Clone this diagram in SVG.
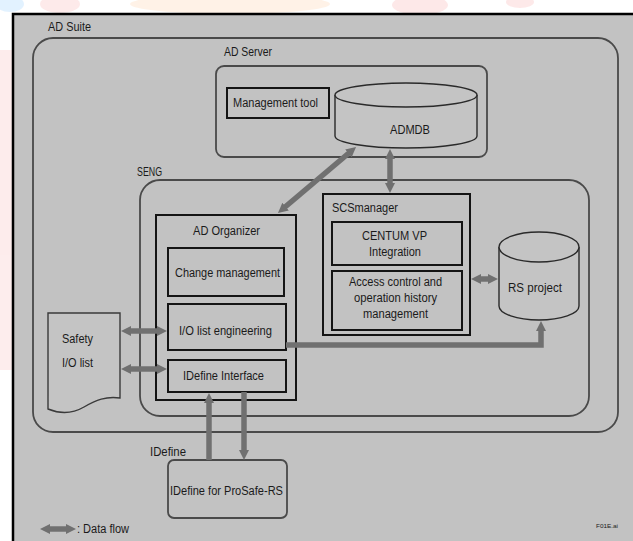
<svg xmlns="http://www.w3.org/2000/svg" width="633" height="541" viewBox="0 0 633 541">
<style>
text{font-family:"Liberation Sans",Arial,sans-serif;font-size:12.5px;fill:#1a1a1a}
.rr{fill:none;stroke:#4a4a4a;stroke-width:1.8}
.bx{fill:none;stroke:#141414;stroke-width:2}
.cyl{fill:#c4c4c4;stroke:#2a2a2a;stroke-width:1.4}
.fl{fill:none;stroke:#707070;stroke-width:5.5}
</style>
<defs>
<marker id="ah" viewBox="0 0 10 10" refX="3" refY="5" markerWidth="10" markerHeight="11" markerUnits="userSpaceOnUse" orient="auto-start-reverse">
<path d="M0,0 L10,5 L0,10 z" fill="#707070"/>
</marker>
</defs>
<rect x="0" y="0" width="633" height="541" fill="#ffffff"/>
<g id="watermark" opacity="0.8">
<ellipse cx="10" cy="4" rx="14" ry="8" fill="#dcefff"/>
<ellipse cx="60" cy="4" rx="20" ry="9" fill="#fde6e6"/>
<ellipse cx="230" cy="4" rx="100" ry="10" fill="#fff0e2"/>
<ellipse cx="420" cy="5" rx="28" ry="10" fill="#fde3e3"/>
<ellipse cx="520" cy="2" rx="14" ry="6" fill="#fde3e3"/>
<rect x="0" y="50" width="13" height="320" fill="#fde8e8"/>
</g>
<rect id="frame" x="13" y="14" width="640" height="540" fill="#c2c2c2" stroke="#000" stroke-width="2.5"/>
<g id="ad-suite">
<rect class="rr" x="33" y="38" width="585" height="394" rx="20"/>
<text x="48" y="31" textLength="43" lengthAdjust="spacingAndGlyphs">AD Suite</text>
</g>
<g id="ad-server">
<rect class="rr" x="216" y="66" width="271" height="91" rx="8"/>
<text x="224" y="56" textLength="48" lengthAdjust="spacingAndGlyphs">AD Server</text>
</g>
<g id="management-tool">
<rect class="bx" x="227" y="88" width="102" height="30"/>
<text x="233" y="107" textLength="85" lengthAdjust="spacingAndGlyphs">Management tool</text>
</g>
<g id="admdb">
<path class="cyl" d="M335,95 V136 A71,12 0 0 0 477,136 V95"/>
<ellipse class="cyl" cx="406" cy="95" rx="71" ry="12"/>
<text x="390" y="134" textLength="40" lengthAdjust="spacingAndGlyphs">ADMDB</text>
</g>
<g id="seng">
<rect class="rr" x="140" y="180" width="449" height="236" rx="20"/>
<text x="137" y="176" textLength="25" lengthAdjust="spacingAndGlyphs">SENG</text>
</g>
<g id="ad-organizer">
<rect class="bx" x="156" y="215" width="140" height="185"/>
<text x="193" y="235" textLength="67" lengthAdjust="spacingAndGlyphs">AD Organizer</text>
</g>
<g id="change-management">
<rect class="bx" x="168" y="248" width="116" height="48"/>
<text x="175" y="277" textLength="105" lengthAdjust="spacingAndGlyphs">Change management</text>
</g>
<g id="io-list-engineering">
<rect class="bx" x="168" y="304" width="118" height="46"/>
<text x="179" y="335" textLength="93" lengthAdjust="spacingAndGlyphs">I/O list engineering</text>
</g>
<g id="idefine-interface">
<rect class="bx" x="168" y="360" width="118" height="32"/>
<text x="183" y="380" textLength="81" lengthAdjust="spacingAndGlyphs">IDefine Interface</text>
</g>
<g id="scs-manager">
<rect class="bx" x="323" y="194" width="147" height="141"/>
<text x="332" y="212" textLength="66" lengthAdjust="spacingAndGlyphs">SCSmanager</text>
</g>
<g id="centum-vp">
<rect class="bx" x="332" y="222" width="130" height="43"/>
<text x="362" y="240" textLength="65" lengthAdjust="spacingAndGlyphs">CENTUM VP</text>
<text x="369" y="256" textLength="52" lengthAdjust="spacingAndGlyphs">Integration</text>
</g>
<g id="access-control">
<rect class="bx" x="332" y="271" width="130" height="59"/>
<text x="349" y="286" textLength="93" lengthAdjust="spacingAndGlyphs">Access control and</text>
<text x="354" y="302" textLength="83" lengthAdjust="spacingAndGlyphs">operation history</text>
<text x="363" y="318" textLength="65" lengthAdjust="spacingAndGlyphs">management</text>
</g>
<g id="rs-project">
<path class="cyl" d="M499,247 V306 A40,14 0 0 0 579,306 V247"/>
<ellipse class="cyl" cx="539" cy="247" rx="40" ry="15"/>
<text x="508" y="292" textLength="54" lengthAdjust="spacingAndGlyphs">RS project</text>
</g>
<g id="safety-io-list">
<path d="M48,313 H120 V398 C106,396 96,400 84,407 C72,414 60,414 48,409 Z" fill="#c4c4c4" stroke="#3a3a3a" stroke-width="1.4"/>
<text x="62" y="343" textLength="31" lengthAdjust="spacingAndGlyphs">Safety</text>
<text x="62" y="367" textLength="31" lengthAdjust="spacingAndGlyphs">I/O list</text>
</g>
<g id="idefine">
<rect class="rr" x="168" y="460" width="119" height="58" rx="6"/>
<text x="150" y="456" textLength="36" lengthAdjust="spacingAndGlyphs">IDefine</text>
<text x="170" y="495" textLength="113" lengthAdjust="spacingAndGlyphs">IDefine for ProSafe-RS</text>
</g>
<g id="connectors">
<line class="fl" x1="283.3" y1="208.5" x2="350.7" y2="151.5" marker-start="url(#ah)" marker-end="url(#ah)"/>
<line class="fl" x1="390" y1="156" x2="390" y2="186" marker-start="url(#ah)" marker-end="url(#ah)"/>
<line class="fl" x1="128" y1="331" x2="160" y2="331" marker-start="url(#ah)" marker-end="url(#ah)"/>
<line class="fl" x1="128" y1="369" x2="160" y2="369" marker-start="url(#ah)" marker-end="url(#ah)"/>
<line class="fl" x1="478" y1="279" x2="491" y2="279" stroke-width="4.5" marker-start="url(#ah)" marker-end="url(#ah)"/>
<path class="fl" d="M286,345 H541 V328" marker-end="url(#ah)"/>
<line class="fl" x1="209" y1="460" x2="209" y2="400" marker-end="url(#ah)"/>
<line class="fl" x1="244" y1="392" x2="244" y2="453" marker-end="url(#ah)"/>
</g>
<g id="legend">
<line class="fl" x1="47" y1="529" x2="69" y2="529" marker-start="url(#ah)" marker-end="url(#ah)"/>
<text x="77" y="533" textLength="52" lengthAdjust="spacingAndGlyphs">: Data flow</text>
<text x="596" y="528" style="font-size:6px" textLength="22" lengthAdjust="spacingAndGlyphs">F01E.ai</text>
</g>
</svg>
